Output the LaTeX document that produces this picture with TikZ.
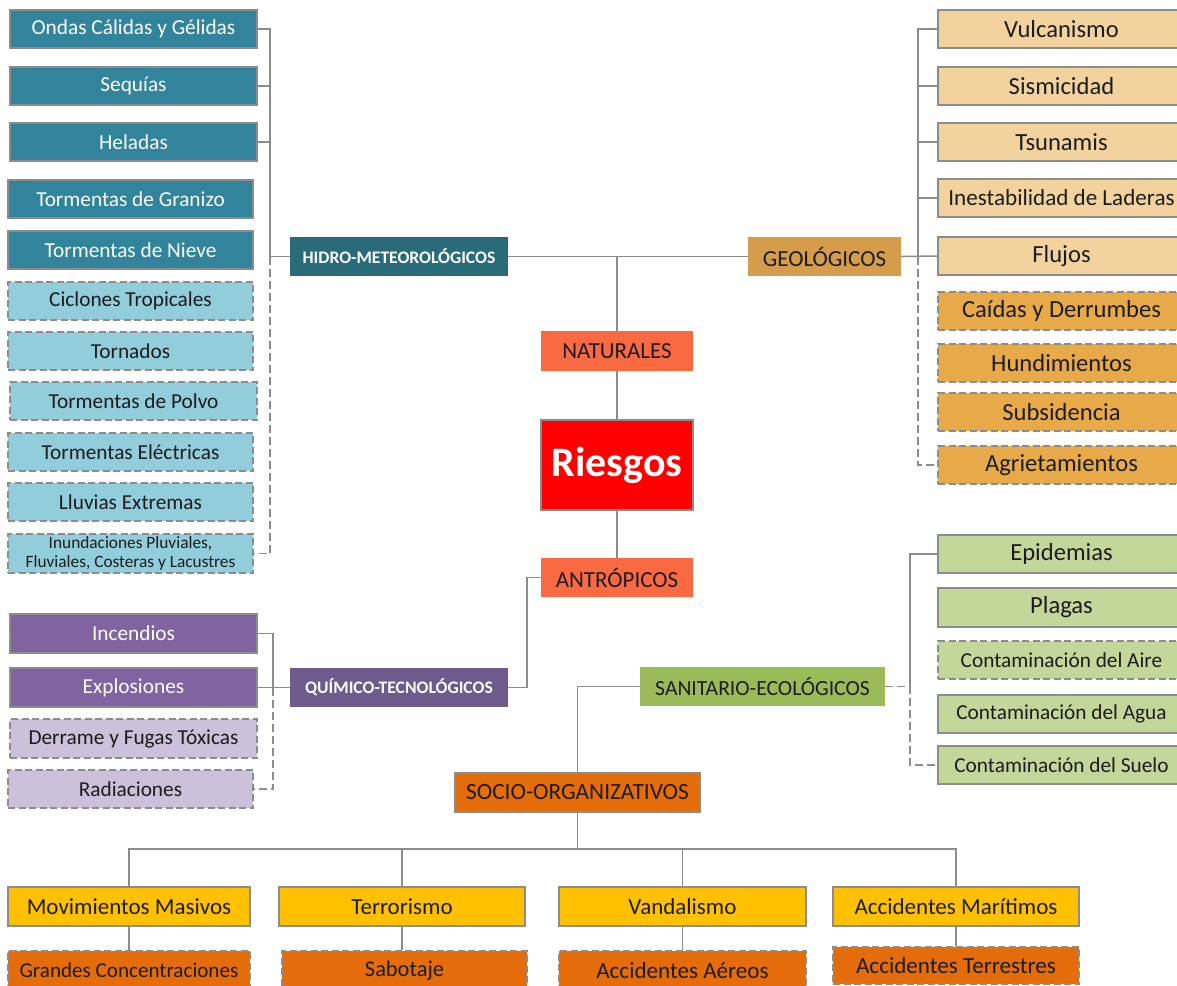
\documentclass[tikz,border=0pt]{standalone}
\usepackage{fontspec}
\setmainfont{Carlito}
\newcommand\setfs[1]{\fontsize{#1}{#1}\selectfont}
\newcommand\setfsl[2]{\fontsize{#1}{#2}\selectfont}
% box given by its left, top, right and bottom edges
\newcommand\placebox[7]{\node[#1, minimum width={#5-#3}, minimum height={#6-#4}] (#2) at ({(#3+#5)/2},{(#4+#6)/2}) {#7};}

\definecolor{linegray}{HTML}{8C8C8C}
\definecolor{txtdark}{HTML}{1C1C1C}
\definecolor{teal}{HTML}{31849B}
\definecolor{tealdark}{HTML}{2A6B7A}
\definecolor{aqua}{HTML}{92CDDC}
\definecolor{purple}{HTML}{8064A2}
\definecolor{purpledark}{HTML}{6E5A8C}
\definecolor{lavender}{HTML}{CCC0DA}
\definecolor{coral}{HTML}{F96A42}
\definecolor{riskred}{HTML}{FF0000}
\definecolor{ochre}{HTML}{D49C4B}
\definecolor{sand}{HTML}{F2D39D}
\definecolor{amber}{HTML}{E8AA48}
\definecolor{olive}{HTML}{9BBB59}
\definecolor{sage}{HTML}{C4D79B}
\definecolor{pumpkin}{HTML}{E46C0A}
\definecolor{gold}{HTML}{FFC000}

\tikzset{
  box/.style={rectangle, inner sep=0pt, draw=linegray, line width=1.5pt, text=txtdark, font=\setfs{21.3}},
  dbox/.style={box, dash pattern=on 7pt off 3.5pt},
  whitebox/.style={box, text=white},
  headbox/.style={rectangle, inner sep=0pt, draw=none, text=white, font=\bfseries\setfs{17.6}},
  catbox/.style={rectangle, inner sep=0pt, draw=none, text=txtdark, font=\setfs{23}},
  conn/.style={draw=linegray, line width=1.5pt},
  dconn/.style={conn, dash pattern=on 8pt off 4pt}
}

\begin{document}
\begin{tikzpicture}[x=1pt, y=-1pt]
\useasboundingbox (0,0) rectangle (1177,985);
\clip (0,0) rectangle (1177,985);

% ---- centre ----
\placebox{box, fill=riskred, text=white, font=\bfseries\setfs{42}}{riesgos}{541}{420}{693}{510}{Riesgos}
\placebox{catbox, fill=coral}{naturales}{541}{331}{693}{371}{NATURALES}
\placebox{catbox, fill=coral}{antro}{541}{558}{693}{597}{ANTRÓPICOS}

% ---- hydro-meteorological ----
\placebox{headbox, fill=tealdark}{hidro}{290}{237}{508}{276}{HIDRO-METEOROLÓGICOS}
\placebox{whitebox, fill=teal}{ondas}{10}{10}{257}{48}{Ondas Cálidas y Gélidas}
\placebox{whitebox, fill=teal}{sequias}{10}{67}{257}{105}{Sequías}
\placebox{whitebox, fill=teal}{heladas}{10}{123}{257}{161}{Heladas}
\placebox{whitebox, fill=teal}{granizo}{8}{180}{253}{218}{Tormentas de Granizo}
\placebox{whitebox, fill=teal}{nieve}{8}{231}{253}{269}{Tormentas de Nieve}
\placebox{dbox, fill=aqua}{ciclones}{8}{282}{253}{320}{Ciclones Tropicales}
\placebox{dbox, fill=aqua}{tornados}{8}{332}{253}{370}{Tornados}
\placebox{dbox, fill=aqua}{polvo}{10}{382}{257}{420}{Tormentas de Polvo}
\placebox{dbox, fill=aqua}{electricas}{8}{433}{253}{471}{Tormentas Eléctricas}
\placebox{dbox, fill=aqua}{lluvias}{8}{483}{253}{521}{Lluvias Extremas}
\placebox{dbox, fill=aqua, align=center, font=\setfsl{17.3}{19.5}}{inund}{8}{534}{253}{573}{Inundaciones Pluviales,\\Fluviales, Costeras y Lacustres}

% ---- geological ----
\placebox{catbox, fill=ochre}{geol}{748}{237}{901}{276}{GEOLÓGICOS}
\placebox{box, fill=sand, font=\setfs{24.6}}{vulc}{938}{10}{1185}{48}{Vulcanismo}
\placebox{box, fill=sand, font=\setfs{24.6}}{sismic}{938}{67}{1185}{105}{Sismicidad}
\placebox{box, fill=sand, font=\setfs{24.6}}{tsunami}{938}{123}{1185}{161}{Tsunamis}
\placebox{box, fill=sand, font=\setfs{23.1}}{laderas}{938}{179}{1185}{217}{Inestabilidad de Laderas}
\placebox{box, fill=sand, font=\setfs{24.6}}{flujos}{938}{237}{1185}{275}{Flujos}
\placebox{dbox, fill=amber, font=\setfs{24.6}}{caidas}{938}{292}{1185}{330}{Caídas y Derrumbes}
\placebox{dbox, fill=amber, font=\setfs{24.6}}{hundim}{938}{344}{1185}{382}{Hundimientos}
\placebox{dbox, fill=amber, font=\setfs{24.6}}{subsid}{938}{393}{1185}{431}{Subsidencia}
\placebox{dbox, fill=amber, font=\setfs{24.6}}{agriet}{938}{446}{1185}{484}{Agrietamientos}

% ---- chemical-technological ----
\placebox{headbox, fill=purpledark}{quim}{290}{668}{508}{707}{QUÍMICO-TECNOLÓGICOS}
\placebox{whitebox, fill=purple}{incendios}{10}{614}{257}{653}{Incendios}
\placebox{whitebox, fill=purple}{explos}{10}{668}{257}{707}{Explosiones}
\placebox{dbox, fill=lavender}{derrame}{10}{719}{257}{758}{Derrame y Fugas Tóxicas}
\placebox{dbox, fill=lavender}{radiac}{8}{770}{253}{808}{Radiaciones}

% ---- sanitary-ecological ----
\placebox{catbox, fill=olive, font=\setfs{21.6}}{sanit}{640}{667}{885}{706}{SANITARIO-ECOLÓGICOS}
\placebox{box, fill=sage, font=\setfs{24.6}}{epid}{938}{535}{1185}{573}{Epidemias}
\placebox{box, fill=sage, font=\setfs{24.6}}{plagas}{938}{588}{1185}{627}{Plagas}
\placebox{dbox, fill=sage}{aire}{938}{641}{1185}{679}{Contaminación del Aire}
\placebox{box, fill=sage}{agua}{938}{695}{1185}{733}{Contaminación del Agua}
\placebox{box, fill=sage}{suelo}{938}{746}{1185}{784}{Contaminación del Suelo}

% ---- socio-organisational ----
\placebox{box, fill=pumpkin, font=\setfs{23.3}}{socio}{455}{773}{700}{812}{SOCIO-ORGANIZATIVOS}
\placebox{box, fill=gold, font=\setfs{23}}{movim}{8}{887}{250}{926}{Movimientos Masivos}
\placebox{box, fill=gold, font=\setfs{23}}{terror}{279}{887}{525}{926}{Terrorismo}
\placebox{box, fill=gold, font=\setfs{23}}{vandal}{559}{887}{806}{926}{Vandalismo}
\placebox{box, fill=gold, font=\setfs{23}}{marit}{833}{887}{1079}{926}{Accidentes Marítimos}
\placebox{dbox, fill=pumpkin, font=\setfs{21.1}}{grandes}{8}{951}{250}{990}{Grandes Concentraciones}
\placebox{dbox, fill=pumpkin, font=\setfs{22.4}}{sabotaje}{282}{951}{527}{990}{Sabotaje}
\placebox{dbox, fill=pumpkin, font=\setfs{23.1}}{aereos}{559}{951}{806}{990}{Accidentes Aéreos}
\placebox{dbox, fill=pumpkin, font=\setfs{23.1}}{terrest}{833}{947}{1079}{984}{Accidentes Terrestres}

% ---- connectors ----
\coordinate (htrunk) at (270,0);
\coordinate (gtrunk) at (918,0);
\coordinate (qtrunk) at (273,0);
\coordinate (qriser) at (527,0);
\coordinate (strunk) at (910,0);
\coordinate (bus) at (0,849);

% natural branch
\draw[conn] (hidro.east) -- (geol.west);
\draw[conn] (naturales.north) -- (naturales.north |- hidro.east);
\draw[conn] (naturales.south) -- (riesgos.north);
\draw[conn] (riesgos.south) -- (antro.north);

% hydro-meteorological items
\draw[conn] (ondas.east) -- (ondas.east -| htrunk) -- (hidro.west -| htrunk) -- (hidro.west);
\draw[conn] (sequias.east) -- (sequias.east -| htrunk);
\draw[conn] (heladas.east) -- (heladas.east -| htrunk);
\draw[dconn] (hidro.west -| htrunk) -- (inund.east -| htrunk) -- (inund.east);

% geological items
\draw[conn] (vulc.west) -- (vulc.west -| gtrunk) -- (geol.east -| gtrunk);
\draw[conn] (sismic.west) -- (sismic.west -| gtrunk);
\draw[conn] (tsunami.west) -- (tsunami.west -| gtrunk);
\draw[conn] (laderas.west) -- (laderas.west -| gtrunk);
\draw[conn] (geol.east) -- (flujos.west);
\draw[dconn] (geol.east -| gtrunk) -- (agriet.west -| gtrunk) -- (agriet.west);

% chemical-technological items
\draw[conn] (incendios.east) -- (incendios.east -| qtrunk) -- (quim.west -| qtrunk);
\draw[conn] (explos.east) -- (quim.west);
\draw[dconn] (quim.west -| qtrunk) -- (radiac.east -| qtrunk) -- (radiac.east);
\draw[conn] (quim.east) -- (quim.east -| qriser) -- (antro.west -| qriser) -- (antro.west);

% sanitary-ecological items
\draw[conn] (epid.west) -- (epid.west -| strunk) -- (sanit.east -| strunk);
\draw[dconn] (sanit.east) -- (sanit.east -| strunk) -- (suelo.west -| strunk) -- (suelo.west);
\draw[conn] (sanit.west) -- (sanit.west -| socio.north) -- (socio.north);

% socio-organisational items
\draw[conn] (socio.south) -- (socio.south |- bus);
\draw[conn] (movim.north) -- (movim.north |- bus) -- (marit.north |- bus) -- (marit.north);
\draw[conn] (terror.north) -- (terror.north |- bus);
\draw[conn] (vandal.north) -- (vandal.north |- bus);
\draw[conn] (movim.south) -- (grandes.north);
\draw[conn] (terror.south) -- (terror.south |- sabotaje.north);
\draw[conn] (vandal.south) -- (aereos.north);
\draw[conn] (marit.south) -- (terrest.north);
\end{tikzpicture}
\end{document}
